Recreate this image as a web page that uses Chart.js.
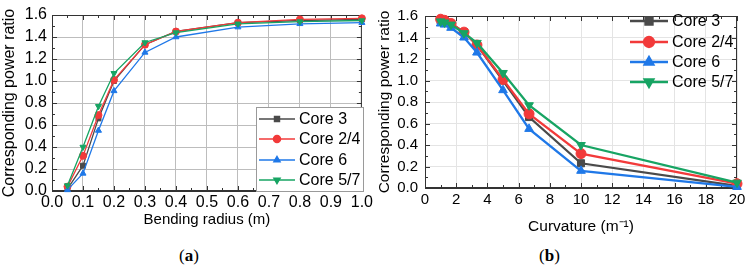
<!DOCTYPE html>
<html>
<head>
<meta charset="utf-8">
<script src="https://cdn.jsdelivr.net/npm/chart.js@4"></script>
<style>
  body { margin: 0; background: #fff; width: 755px; height: 272px; overflow: hidden; position: relative; }
  .box { position: absolute; top: 0; height: 240px; }
  #boxA { left: 0; width: 375px; }
  #boxB { left: 375px; width: 380px; }
  .cap { position: absolute; top: 246px; font-family: "Liberation Serif", serif; font-size: 17px; color: #000; }
</style>
</head>
<body>
<div class="box" id="boxA"><canvas id="chartA"></canvas></div>
<div class="box" id="boxB"><canvas id="chartB"></canvas></div>
<div class="cap" style="left:179px">(<b>a</b>)</div>
<div class="cap" style="left:539px">(<b>b</b>)</div>
<script>
// bending radius (m) and the matching curvature (1/m)
var radius = [0.05, 0.1, 0.15, 0.2, 0.3, 0.4, 0.6, 0.8, 1.0];
var curvature = [20, 10, 6.67, 5, 3.33, 2.5, 1.67, 1.25, 1.0];

// corresponding power ratio per core
var core3  = [0.02, 0.23, 0.66, 1.00, 1.33, 1.45, 1.53, 1.55, 1.56];
var core24 = [0.04, 0.32, 0.69, 1.01, 1.33, 1.45, 1.53, 1.56, 1.57];
var core6  = [0.01, 0.16, 0.55, 0.91, 1.26, 1.40, 1.49, 1.52, 1.53];
var core57 = [0.05, 0.40, 0.77, 1.07, 1.35, 1.44, 1.52, 1.54, 1.55];

var seriesNames = ['Core 3', 'Core 2/4', 'Core 6', 'Core 5/7'];
var seriesValues = [core3, core24, core6, core57];
var seriesColors = ['#4a4a4a', '#f23a3a', '#1f78e8', '#17a463'];
var seriesMarkers = ['rect', 'circle', 'triangle', 'triangle'];
var markerRotation = [0, 0, 0, 180];

var yTicks = [0, 0.2, 0.4, 0.6, 0.8, 1.0, 1.2, 1.4, 1.6];

var FONT = 'Liberation Sans, Arial, sans-serif';

// box around the plot with small inward ticks (major + minor)
var frameTicks = {
    id: 'frameTicks',
    beforeDatasetsDraw: function (chart, args, opts) {
        var ctx = chart.ctx, a = chart.chartArea;
        var xs = chart.scales.x, ys = chart.scales.y;
        ctx.save();
        ctx.strokeStyle = opts.color;
        ctx.lineWidth = 1;
        ctx.strokeRect(a.left + 0.5, a.top + 0.5, a.right - a.left - 1, a.bottom - a.top - 1);
        ctx.beginPath();
        var n = Math.round((xs.max - xs.min) / opts.xMinor);
        for (var i = 0; i <= n; i++) {
            var px = Math.round(xs.getPixelForValue(xs.min + i * opts.xMinor)) + 0.5;
            var len = i % 2 ? opts.minorLen : opts.majorLen;
            ctx.moveTo(px, a.bottom); ctx.lineTo(px, a.bottom - len);
            ctx.moveTo(px, a.top); ctx.lineTo(px, a.top + len);
        }
        var m = Math.round((ys.max - ys.min) / opts.yMinor);
        for (var j = 0; j <= m; j++) {
            var py = Math.round(ys.getPixelForValue(ys.min + j * opts.yMinor)) + 0.5;
            var l2 = j % 2 ? opts.minorLen : opts.majorLen;
            ctx.moveTo(a.left, py); ctx.lineTo(a.left + l2, py);
            ctx.moveTo(a.right, py); ctx.lineTo(a.right - l2, py);
        }
        ctx.stroke();
        ctx.restore();
    }
};

// legend drawn inside the plot: line + marker + label
var insetLegend = {
    id: 'insetLegend',
    afterDraw: function (chart, args, opts) {
        var ctx = chart.ctx;
        ctx.save();
        if (opts.box) {
            var b = opts.box;
            ctx.fillStyle = '#fff';
            ctx.fillRect(b[0], b[1], b[2], b[3]);
            ctx.strokeStyle = '#9a9a9a';
            ctx.lineWidth = 1;
            ctx.strokeRect(b[0] + 0.5, b[1] + 0.5, b[2] - 1, b[3] - 1);
        }
        chart.data.datasets.forEach(function (ds, i) {
            var y = opts.rows[i];
            ctx.strokeStyle = ds.borderColor;
            ctx.fillStyle = ds.backgroundColor;
            ctx.lineWidth = opts.lineWidth;
            ctx.beginPath();
            ctx.moveTo(opts.lineX[0], y);
            ctx.lineTo(opts.lineX[1], y);
            ctx.stroke();
            Chart.helpers.drawPoint(ctx, {
                pointStyle: ds.pointStyle,
                rotation: ds.pointRotation,
                radius: opts.radius,
                borderWidth: 1
            }, opts.markX, y);
            ctx.fillStyle = '#000';
            ctx.font = opts.fontSize + 'px ' + FONT;
            ctx.textBaseline = 'middle';
            ctx.fillText(ds.label, opts.textX, y + 1);
        });
        ctx.restore();
    }
};

function buildDatasets(xs, lineWidth, radius) {
    return seriesNames.map(function (name, i) {
        return {
            label: name,
            data: xs.map(function (x, k) { return {x: x, y: seriesValues[i][k]}; }),
            borderColor: seriesColors[i],
            backgroundColor: seriesColors[i],
            borderWidth: lineWidth,
            pointStyle: seriesMarkers[i],
            pointRotation: markerRotation[i],
            pointRadius: radius,
            pointBorderWidth: 1,
            tension: 0,
            fill: false,
            clip: false,
            order: 4 - i
        };
    });
}

new Chart(document.getElementById('chartA'), {
    type: 'line',
    data: { datasets: buildDatasets(radius, 1.3, 3.5) },
    options: {
        responsive: true,
        maintainAspectRatio: false,
        animation: false,
        layout: { padding: { top: 15, right: 12, left: 0, bottom: 0 } },
        scales: {
            x: {
                type: 'linear', min: 0, max: 1,
                ticks: {
                    stepSize: 0.1, padding: 2, color: '#000', autoSkip: false,
                    font: { family: FONT, size: 16 },
                    callback: function (v) { return v.toFixed(1); }
                },
                grid: { color: '#bdbdbd', drawTicks: false },
                border: { color: '#333' },
                title: { display: true, text: 'Bending radius (m)', color: '#000',
                         font: { family: FONT, size: 15 }, padding: { top: 0, bottom: 11 } },
                afterFit: function (s) { s.height = 49; }
            },
            y: {
                min: 0, max: 1.6,
                afterBuildTicks: function (s) { s.ticks = yTicks.map(function (v) { return {value: v}; }); },
                ticks: {
                    padding: 5, color: '#000', autoSkip: false,
                    font: { family: FONT, size: 16 },
                    callback: function (v) { return v.toFixed(1); }
                },
                grid: { color: '#bdbdbd', drawTicks: false },
                border: { color: '#333' },
                title: { display: true, text: 'Corresponding power ratio', color: '#000',
                         font: { family: FONT, size: 16 }, padding: { top: 0, bottom: 0 } },
                afterFit: function (s) { s.width = 52; }
            }
        },
        plugins: {
            legend: { display: false },
            tooltip: { enabled: false },
            frameTicks: { color: '#333', xMinor: 0.05, yMinor: 0.1, majorLen: 5, minorLen: 3 },
            insetLegend: {
                box: [256, 107, 108, 85],
                rows: [119, 139, 160, 180],
                lineX: [259, 295], markX: 277, textX: 299,
                lineWidth: 1.5, radius: 3.5, fontSize: 16
            }
        }
    },
    plugins: [frameTicks, insetLegend]
});

new Chart(document.getElementById('chartB'), {
    type: 'line',
    data: { datasets: buildDatasets(curvature, 2.3, 5) },
    options: {
        responsive: true,
        maintainAspectRatio: false,
        animation: false,
        layout: { padding: { top: 11, right: 18, left: 0, bottom: 0 } },
        scales: {
            x: {
                type: 'linear', min: 0, max: 20,
                ticks: {
                    stepSize: 2, padding: 3, color: '#000', autoSkip: false,
                    font: { family: FONT, size: 15 }
                },
                grid: { color: '#e4e4e4', drawTicks: false },
                border: { color: '#333' },
                title: { display: true, text: 'Curvature (m\u207B\u00B9)', color: '#000',
                         font: { family: FONT, size: 15.5 }, padding: { top: 0, bottom: 4 } },
                afterFit: function (s) { s.height = 52; }
            },
            y: {
                min: 0, max: 1.6,
                afterBuildTicks: function (s) { s.ticks = yTicks.map(function (v) { return {value: v}; }); },
                ticks: {
                    padding: 7, color: '#000', autoSkip: false,
                    font: { family: FONT, size: 15 },
                    callback: function (v) { return v.toFixed(1); }
                },
                grid: { color: '#e4e4e4', drawTicks: false },
                border: { color: '#333' },
                title: { display: true, text: 'Corresponding power ratio', color: '#000',
                         font: { family: FONT, size: 15.5 }, padding: { top: 0, bottom: 0 } },
                afterFit: function (s) { s.width = 50; }
            }
        },
        plugins: {
            legend: { display: false },
            tooltip: { enabled: false },
            frameTicks: { color: '#333', xMinor: 1, yMinor: 0.1, majorLen: 5, minorLen: 3 },
            insetLegend: {
                box: null,
                rows: [21, 42, 62, 82],
                lineX: [255, 293], markX: 274, textX: 297,
                lineWidth: 2.3, radius: 5, fontSize: 16
            }
        }
    },
    plugins: [frameTicks, insetLegend]
});
</script>
</body>
</html>
